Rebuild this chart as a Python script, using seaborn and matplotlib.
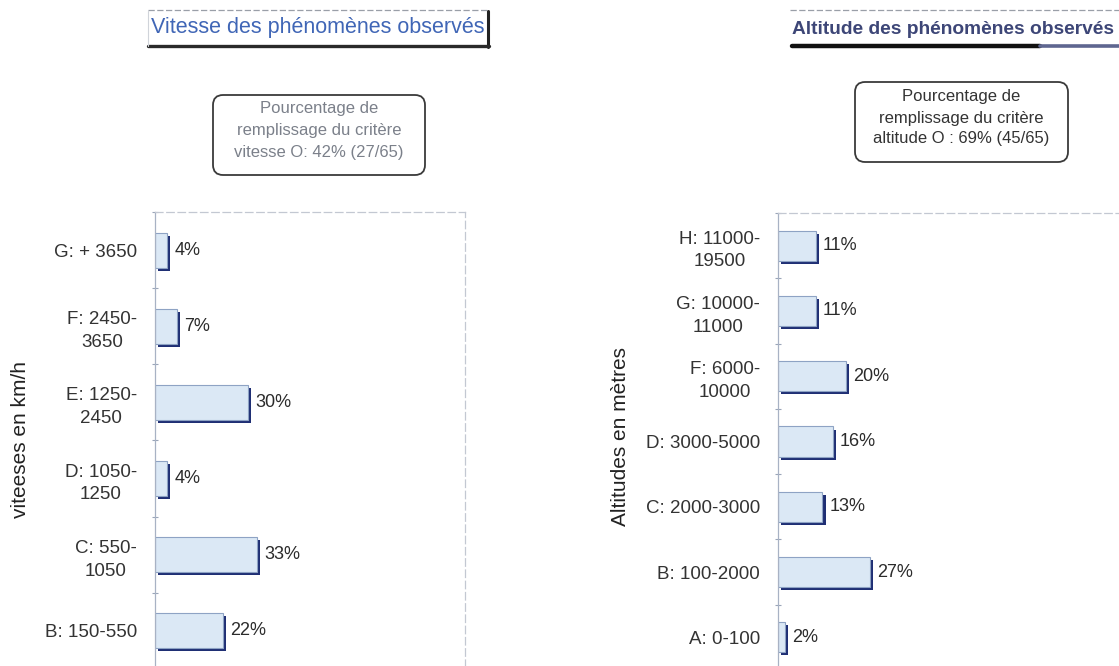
import matplotlib
matplotlib.use("Agg")
import matplotlib.pyplot as plt
import matplotlib.patheffects as pe
from matplotlib.patches import FancyBboxPatch
from matplotlib.lines import Line2D
import seaborn as sns
import pandas as pd

# ---------------- data ----------------
speed_categories = ["G: + 3650", "F: 2450-\n3650", "E: 1250-\n2450",
                    "D: 1050-\n1250", "C: 550-\n1050", "B: 150-550"]
speed_values = [4, 7, 30, 4, 33, 22]

alt_categories = ["H: 11000-\n19500", "G: 10000-\n11000", "F: 6000-\n10000",
                  "D: 3000-5000", "C: 2000-3000", "B: 100-2000", "A: 0-100"]
alt_values = [11, 11, 20, 16, 13, 27, 2]

speed_title = "Vitesse des phénomènes observés"
alt_title = "Altitude des phénomènes observés"
speed_ylabel = "viteeses en km/h"
alt_ylabel = "Altitudes en mètres"
speed_note = ["Pourcentage de", "remplissage du critère", "vitesse O: 42% (27/65)"]
alt_note = ["Pourcentage de", "remplissage du critère", "altitude O : 69% (45/65)"]

# ---------------- style ----------------
sns.set_theme(style="white")
FONT = "Liberation Sans"
plt.rcParams["font.family"] = [FONT, "DejaVu Sans"]

W, H = 1119, 666
fig = plt.figure(figsize=(W / 100, H / 100), dpi=100)
fig.patch.set_facecolor("white")


def fx(px):
    return px / W


def fy(py):
    return 1 - py / H


BAR_FACE = "#dbe8f5"
BAR_EDGE = "#8ea3c4"
SHADOW = "#1f2f74"
TXT = "#2b2b2b"


def make_panel(rect, cats, vals):
    ax = fig.add_axes(rect)
    df = pd.DataFrame({"cat": cats, "val": vals})
    sns.barplot(data=df, x="val", y="cat", orient="h", width=0.46,
                color=BAR_FACE, edgecolor=BAR_EDGE, linewidth=0.8,
                saturation=1, ax=ax)
    for p in ax.patches:
        p.set_path_effects([pe.SimplePatchShadow(offset=(2.2, -2.2),
                                                 shadow_rgbFace=SHADOW, alpha=1.0),
                            pe.Normal()])
    for c in ax.containers:
        ax.bar_label(c, labels=[f"{v}%" for v in vals], padding=5,
                     fontsize=13, color=TXT)
    ax.set_xlim(0, 100)
    ax.set_xlabel("")
    ax.set_ylabel("")
    ax.set_xticks([])
    n = len(cats)
    ax.set_yticks(range(n))
    ax.set_yticklabels(cats, fontsize=13.5, color="#333333",
                       multialignment="center", linespacing=1.45)
    ax.set_yticks([i + 0.5 for i in range(-1, n)], minor=True)
    ax.tick_params(axis="y", which="major", length=0, pad=13)
    ax.tick_params(axis="y", which="minor", length=5, width=0.8,
                   color="#9aa5b8", direction="inout", left=True)
    ax.spines["left"].set_color("#a8b2c4")
    ax.spines["left"].set_linewidth(0.9)
    for s in ("top", "right"):
        ax.spines[s].set_color("#c3c8d2")
        ax.spines[s].set_linewidth(0.9)
        ax.spines[s].set_linestyle((0, (6, 3)))
    ax.spines["bottom"].set_visible(False)
    ax.set_facecolor("white")
    return ax


# left panel: axis 155 -> 465 px, 212 -> 669 px
ax1 = make_panel([fx(155), fy(669), fx(310), 457 / H], speed_categories, speed_values)
# right panel: axis 778 -> 1120 px, 213 -> 670 px
ax2 = make_panel([fx(778), fy(670), fx(342), 457 / H], alt_categories, alt_values)

# y axis labels
fig.text(fx(21), fy(440), speed_ylabel, rotation=90, ha="center", va="center",
         fontsize=15, color="#222222")
fig.text(fx(620), fy(437), alt_ylabel, rotation=90, ha="center", va="center",
         fontsize=15, color="#222222")

# ---------------- titles ----------------
fig.text(fx(151), fy(28), speed_title, ha="left", va="center",
         fontsize=15.5, color="#4066b6")
fig.add_artist(Line2D([fx(148), fx(488)], [fy(10), fy(10)], color="#9a9fa8",
                      lw=0.9, ls=(0, (5, 2))))
fig.add_artist(Line2D([fx(488), fx(488)], [fy(11), fy(47)], color="#222222", lw=2.2))
fig.add_artist(Line2D([fx(148), fx(489)], [fy(46), fy(46)], color="#2a2a2a", lw=2.4))
fig.add_artist(Line2D([fx(148), fx(148)], [fy(11), fy(46)], color="#d0d4da", lw=0.8))

fig.text(fx(792), fy(29), alt_title, ha="left", va="center",
         fontsize=13.8, fontweight="bold", color="#3d4677")
fig.add_artist(Line2D([fx(790), fx(1119)], [fy(10), fy(10)], color="#9a9fa8",
                      lw=0.9, ls=(0, (5, 2))))
fig.add_artist(Line2D([fx(792), fx(1040)], [fy(46), fy(46)], color="#111111", lw=3.2))
fig.add_artist(Line2D([fx(1040), fx(1119)], [fy(46), fy(46)], color="#5e6690", lw=2.6))

# ---------------- notes ----------------
def note(x0, y0, x1, y1, lines, ys, color):
    box = FancyBboxPatch((fx(x0), fy(y1)), fx(x1 - x0), (y1 - y0) / H,
                         boxstyle="round,pad=0,rounding_size=0.009",
                         mutation_aspect=W / H, transform=fig.transFigure,
                         facecolor="white", edgecolor="#3a3a3a", lw=1.3)
    fig.add_artist(box)
    cx = (x0 + x1) / 2
    for t, y in zip(lines, ys):
        fig.text(fx(cx), fy(y), t, ha="center", va="center", fontsize=12,
                 color=color)


note(213, 95, 425, 175, speed_note, [109, 131, 153], "#7b808a")
note(855, 82, 1068, 162, alt_note, [97, 118, 139], "#333333")

fig.savefig("out.png", dpi=100)
